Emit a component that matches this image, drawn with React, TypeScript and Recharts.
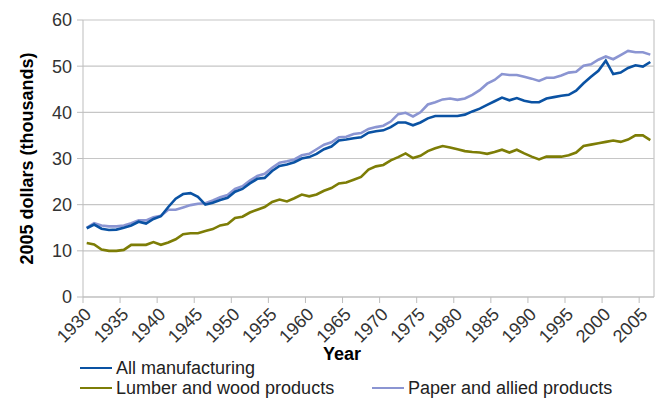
import React from "react";
import { LineChart, Line, XAxis, YAxis, CartesianGrid, ReferenceLine } from "recharts";

const years = [
  1930, 1931, 1932, 1933, 1934, 1935, 1936, 1937, 1938, 1939,
  1940, 1941, 1942, 1943, 1944, 1945, 1946, 1947, 1948, 1949,
  1950, 1951, 1952, 1953, 1954, 1955, 1956, 1957, 1958, 1959,
  1960, 1961, 1962, 1963, 1964, 1965, 1966, 1967, 1968, 1969,
  1970, 1971, 1972, 1973, 1974, 1975, 1976, 1977, 1978, 1979,
  1980, 1981, 1982, 1983, 1984, 1985, 1986, 1987, 1988, 1989,
  1990, 1991, 1992, 1993, 1994, 1995, 1996, 1997, 1998, 1999,
  2000, 2001, 2002, 2003, 2004, 2005, 2006,
];

const allManufacturing = [
  14.9, 15.7, 14.8, 14.5, 14.6, 15.0, 15.5, 16.3, 15.9, 16.9,
  17.5, 19.5, 21.3, 22.3, 22.5, 21.7, 20.0, 20.4, 21.0, 21.5,
  22.8, 23.4, 24.6, 25.6, 25.8, 27.3, 28.4, 28.7, 29.2, 30.0,
  30.3, 31.0, 32.0, 32.6, 33.9, 34.1, 34.4, 34.6, 35.6, 35.9,
  36.1, 36.8, 37.8, 37.8, 37.2, 37.8, 38.7, 39.2, 39.2, 39.2,
  39.2, 39.5, 40.2, 40.8, 41.6, 42.4, 43.2, 42.6, 43.1, 42.5,
  42.2, 42.2, 43.0, 43.3, 43.6, 43.8, 44.7, 46.3, 47.7, 49.0,
  51.2, 48.3, 48.6, 49.6, 50.2, 49.9, 50.9,
];

const lumberWood = [
  11.7, 11.4, 10.3, 10.0, 10.0, 10.2, 11.3, 11.3, 11.3, 11.9,
  11.3, 11.8, 12.5, 13.6, 13.8, 13.8, 14.3, 14.7, 15.5, 15.8,
  17.1, 17.4, 18.3, 18.9, 19.5, 20.6, 21.1, 20.7, 21.4, 22.2,
  21.8, 22.2, 23.0, 23.6, 24.6, 24.8, 25.4, 26.0, 27.6, 28.3,
  28.6, 29.6, 30.3, 31.1, 30.1, 30.6, 31.6, 32.2, 32.7, 32.4,
  32.0, 31.6, 31.4, 31.3, 31.0, 31.4, 31.9, 31.3, 31.9, 31.1,
  30.4, 29.8, 30.4, 30.4, 30.4, 30.7, 31.3, 32.7, 33.0, 33.3,
  33.6, 33.9, 33.6, 34.1, 35.0, 35.0, 34.0,
];

const paperAllied = [
  15.0, 16.0, 15.5, 15.3, 15.3, 15.5, 16.0, 16.6, 16.6, 17.3,
  17.6, 18.9, 18.9, 19.4, 19.9, 20.2, 20.3, 20.9, 21.6, 22.1,
  23.4, 24.0, 25.2, 26.2, 26.7, 28.0, 29.1, 29.4, 29.8, 30.7,
  31.0, 32.0, 33.0, 33.5, 34.6, 34.7, 35.3, 35.5, 36.4, 36.8,
  37.1, 38.0, 39.6, 39.9, 39.1, 40.0, 41.7, 42.2, 42.8, 43.0,
  42.7, 43.0, 43.8, 44.8, 46.2, 47.0, 48.3, 48.1, 48.1, 47.7,
  47.3, 46.8, 47.5, 47.5, 48.0, 48.6, 48.8, 50.1, 50.4, 51.4,
  52.1, 51.5, 52.4, 53.3, 53.0, 53.0, 52.5,
];

const xTicks = [1930, 1935, 1940, 1945, 1950, 1955, 1960, 1965, 1970, 1975, 1980, 1985, 1990, 1995, 2000, 2005];
const yTicks = [0, 10, 20, 30, 40, 50, 60];

const seriesNames = ["All manufacturing", "Lumber and wood products", "Paper and allied products"];
const colors = ["#0a52a3", "#7d7d06", "#8b95d2"];

const data = years.map((y, i) => ({
  x: y + 0.5,
  all: allManufacturing[i],
  lumber: lumberWood[i],
  paper: paperAllied[i],
}));

const FONT = '"Liberation Sans", Arial, Helvetica, sans-serif';

const XTick = (props: any) => {
  const { x, y, payload } = props;
  const ax = x + 5;
  const ay = y + 8;
  return (
    <text
      x={ax}
      y={ay}
      transform={`rotate(-45, ${ax}, ${ay})`}
      textAnchor="end"
      dy="0.35em"
      fontSize={18}
      fontFamily={FONT}
      fill="#333"
    >
      {payload.value}
    </text>
  );
};

const YTitle = (props: any) => {
  const vb = props.viewBox;
  const cx = 27;
  const cy = vb.y + vb.height / 2;
  return (
    <text
      x={cx}
      y={cy}
      transform={`rotate(-90, ${cx}, ${cy})`}
      textAnchor="middle"
      dominantBaseline="central"
      fontSize={18}
      fontWeight="bold"
      fontFamily={FONT}
      fill="#000"
    >
      2005 dollars (thousands)
    </text>
  );
};

const XTitle = () => (
  <text
    x={342}
    y={354}
    textAnchor="middle"
    dominantBaseline="central"
    fontSize={18}
    fontWeight="bold"
    fontFamily={FONT}
    fill="#000"
  >
    Year
  </text>
);

const legendPos = [
  { left: 80, top: 368 },
  { left: 80, top: 388 },
  { left: 372, top: 388 },
];

export default function App() {
  return (
    <div style={{ position: "absolute", left: 0, top: 0, width: 656, height: 399, background: "#fff" }}>
      <LineChart
        width={656}
        height={399}
        data={data}
        margin={{ top: 20, right: 2, left: 0, bottom: 0 }}
      >
        <CartesianGrid vertical={false} stroke="#c6c6c6" strokeWidth={1.2} />
        <XAxis
          dataKey="x"
          type="number"
          domain={[1930, 2007]}
          ticks={xTicks}
          interval={0}
          height={102}
          tickSize={6}
          tickMargin={0}
          stroke="#bdbdbd"
          tick={<XTick />}
          label={<XTitle />}
        />
        <YAxis
          type="number"
          domain={[0, 60]}
          ticks={yTicks}
          interval={0}
          width={83}
          tickSize={6}
          tickMargin={5}
          stroke="#bdbdbd"
          tick={{ fontSize: 18, fontFamily: FONT, fill: "#333" }}
          label={<YTitle />}
        />
        <ReferenceLine x={2007} stroke="#c6c6c6" strokeWidth={1.2} />
        <Line type="linear" dataKey="paper" stroke={colors[2]} strokeWidth={2.6} dot={false} isAnimationActive={false} />
        <Line type="linear" dataKey="lumber" stroke={colors[1]} strokeWidth={2.6} dot={false} isAnimationActive={false} />
        <Line type="linear" dataKey="all" stroke={colors[0]} strokeWidth={2.6} dot={false} isAnimationActive={false} />
      </LineChart>
      {seriesNames.map((name, i) => (
        <div
          key={name}
          style={{
            position: "absolute",
            left: legendPos[i].left,
            top: legendPos[i].top - 11,
            height: 22,
            display: "flex",
            alignItems: "center",
            fontFamily: FONT,
            fontSize: 18,
            color: "#222",
            whiteSpace: "nowrap",
          }}
        >
          <span style={{ display: "inline-block", width: 32, height: 2.6, background: colors[i], marginRight: 4 }} />
          {name}
        </div>
      ))}
    </div>
  );
}
